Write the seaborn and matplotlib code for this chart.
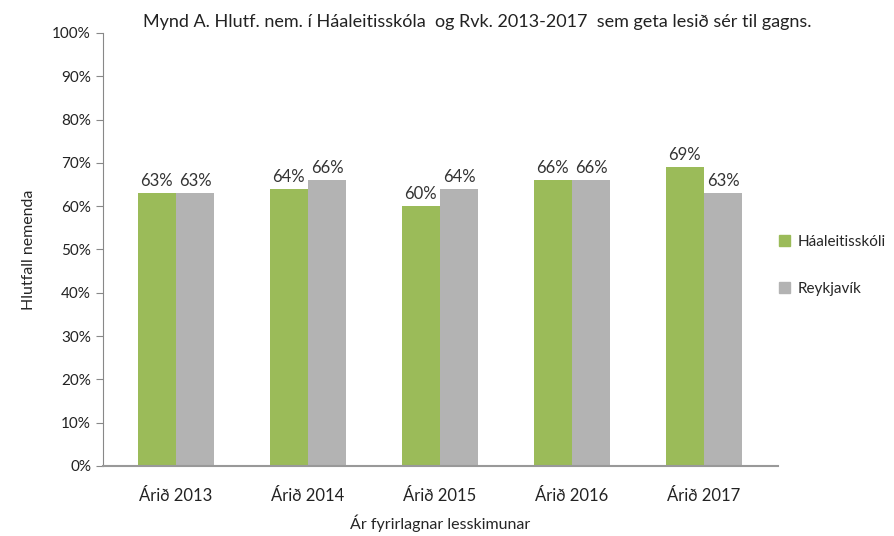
import pandas as pd
import matplotlib.pyplot as plt
import seaborn as sns
from matplotlib.ticker import PercentFormatter
from matplotlib.patches import Patch

years = ["Árið 2013", "Árið 2014", "Árið 2015", "Árið 2016", "Árið 2017"]
haaleiti = [63, 64, 60, 66, 69]
reykjavik = [63, 66, 64, 66, 63]
series = ["Háaleitisskóli", "Reykjavík"]
colors = ["#9BBB59", "#B3B3B3"]

df = pd.DataFrame({
    "year": years * 2,
    "value": haaleiti + reykjavik,
    "series": [series[0]] * len(years) + [series[1]] * len(years),
})

sns.set_style("white")
plt.rcParams["font.family"] = ["Lato", "DejaVu Sans"]

fig = plt.figure(figsize=(8.94, 5.36), dpi=100)
ax = fig.add_axes([0.115, 0.1306, 0.755, 0.808])

sns.barplot(data=df, x="year", y="value", hue="series", palette=colors,
            width=0.58, saturation=1, linewidth=0, ax=ax, legend=False)

for cont in ax.containers:
    ax.bar_label(cont, labels=[f"{v:.0f}%" for v in cont.datavalues],
                 padding=3, fontsize=12, color="#333333")

ax.set_ylim(0, 100)
ax.set_yticks(range(0, 101, 10))
ax.yaxis.set_major_formatter(PercentFormatter(decimals=0))
ax.tick_params(axis="y", left=True, length=5, color="#888888", labelsize=11)
ax.tick_params(axis="x", bottom=False, labelsize=12, pad=12)
for lab in ax.get_yticklabels() + ax.get_xticklabels():
    lab.set_color("#222222")

for s in ["top", "right"]:
    ax.spines[s].set_visible(False)
ax.spines["left"].set_color("#888888")
ax.spines["bottom"].set_color("#999999")
ax.spines["bottom"].set_linewidth(1.5)
ax.set_xlim(-0.553, 4.56)

ax.set_xlabel("Ár fyrirlagnar lesskimunar", fontsize=11.5, labelpad=8)
ax.set_ylabel("Hlutfall nemenda", fontsize=11.5, labelpad=12)

fig.text(477 / 894, 1 - 22 / 536,
         "Mynd A. Hlutf. nem. í Háaleitisskóla  og Rvk. 2013-2017  sem geta lesið sér til gagns.",
         ha="center", va="center", fontsize=13, color="#222222")

handles = [Patch(color=c, label=l) for c, l in zip(colors, series)]
fig.legend(handles=handles, loc="center left", bbox_to_anchor=(0.856, 0.505),
           frameon=False, handlelength=0.7, handleheight=0.7, handletextpad=0.5,
           labelspacing=2.2, fontsize=11)

fig.savefig("out.png", dpi=100)
